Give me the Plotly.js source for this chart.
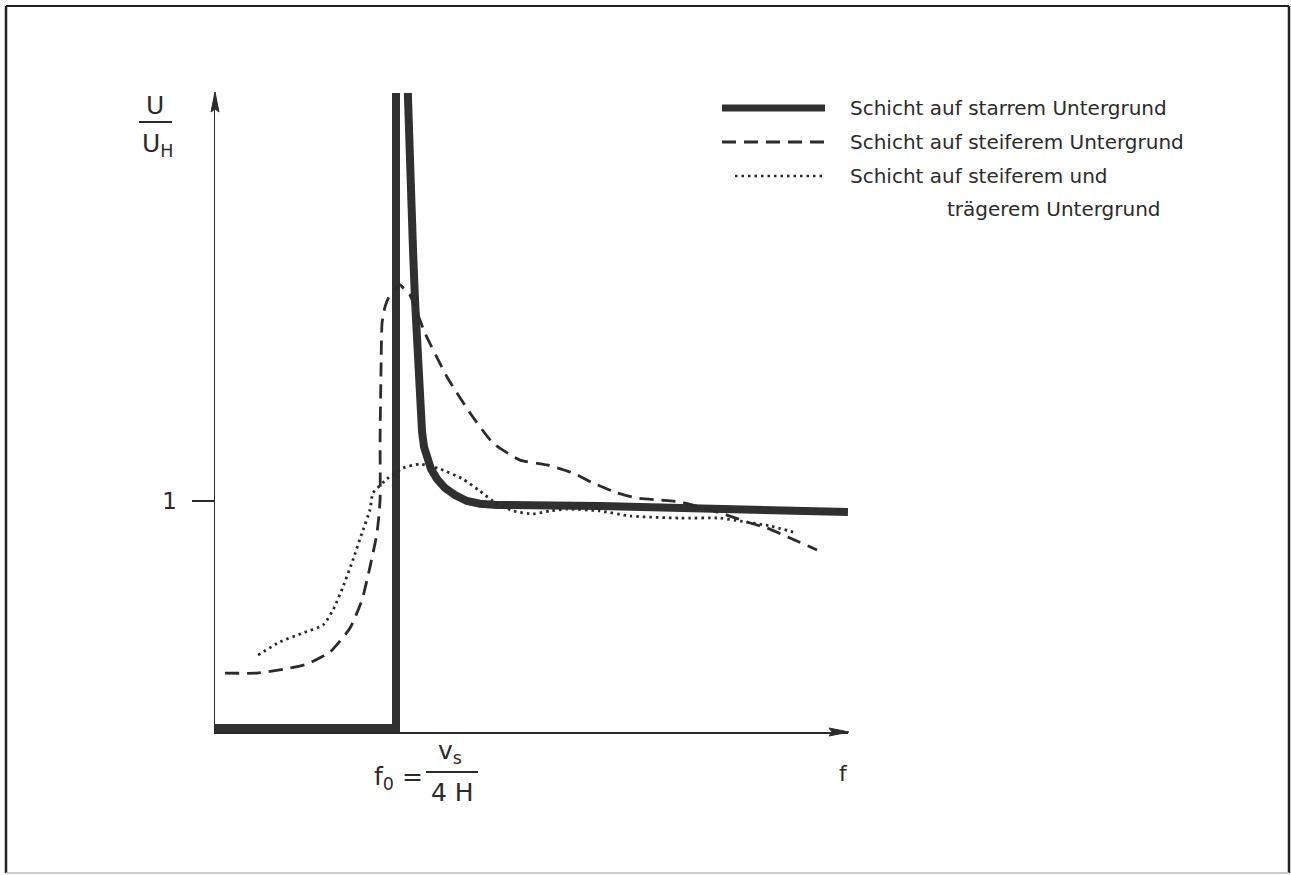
<!DOCTYPE html>
<html>
<head>
<meta charset="utf-8">
<script src="https://cdn.plot.ly/plotly-3.0.1.min.js"></script>
<style>
html,body{margin:0;padding:0;background:#fff;}
#chart{width:1291px;height:875px;}
</style>
</head>
<body>
<div id="chart"></div>
<script>
// ---- data (x = f/f0, y = U/U_H) ----
const seriesNames = ["Schicht auf starrem Untergrund", "Schicht auf steiferem Untergrund", "Schicht auf steiferem und", "trägerem Untergrund"];

const rigidX = [0, 1.0, 1.0, 1.061, 1.066, 1.072, 1.083, 1.094, 1.105, 1.116, 1.127, 1.138, 1.144, 1.155, 1.171, 1.193, 1.227, 1.271, 1.326, 1.392, 1.464, 1.558, 2.127, 2.680, 3.497];
const rigidY = [0.017, 0.017, 3.3, 3.3, 2.749, 2.519, 2.303, 2.087, 1.870, 1.654, 1.437, 1.351, 1.299, 1.234, 1.182, 1.139, 1.095, 1.056, 1.026, 1.000, 0.988, 0.983, 0.978, 0.970, 0.952];

const stiffX = [0.055, 0.232, 0.414, 0.508, 0.635, 0.746, 0.812, 0.856, 0.895, 0.912, 0.912, 0.917, 0.923, 0.939, 0.961, 1.022, 1.050, 1.077, 1.160, 1.282, 1.409, 1.536, 1.685, 1.834, 1.978, 2.088, 2.221, 2.331, 2.459, 2.569, 2.663, 2.829, 2.939, 3.050, 3.177, 3.326];
const stiffY = [0.255, 0.255, 0.277, 0.294, 0.346, 0.450, 0.571, 0.714, 0.861, 1.004, 1.264, 1.554, 1.771, 1.840, 1.883, 1.935, 1.913, 1.892, 1.727, 1.537, 1.381, 1.251, 1.177, 1.156, 1.121, 1.078, 1.035, 1.013, 1.004, 0.996, 0.978, 0.939, 0.909, 0.883, 0.840, 0.788];

const inertX = [0.238, 0.359, 0.486, 0.597, 0.652, 0.707, 0.762, 0.812, 0.856, 0.873, 0.950, 1.039, 1.133, 1.243, 1.370, 1.464, 1.536, 1.646, 1.757, 1.851, 1.945, 2.127, 2.293, 2.569, 2.790, 2.901, 3.066, 3.215];
const inertY = [0.333, 0.390, 0.429, 0.463, 0.528, 0.628, 0.745, 0.861, 0.961, 1.035, 1.095, 1.143, 1.160, 1.139, 1.095, 1.043, 1.000, 0.957, 0.944, 0.957, 0.965, 0.957, 0.935, 0.926, 0.926, 0.913, 0.892, 0.861];

const yTickVals = [1];
const yTickText = ["1"];

// ---- layout helpers (pixel -> paper) ----
const L = 215, R = 848, T = 93, B = 732;
const PX = p => (p - L) / (R - L);
const PY = p => (B - p) / (B - T);

const ink = "#2b2b2b";
const font = "DejaVu Sans, sans-serif";

const traces = [
  {x: rigidX, y: rigidY, mode: "lines", name: seriesNames[0], line: {color: "#303030", width: 8, shape: "linear"}, showlegend: false, hoverinfo: "skip"},
  {x: stiffX, y: stiffY, mode: "lines", name: seriesNames[1], line: {color: ink, width: 2.8, dash: "14px,8px", shape: "spline", smoothing: 0.5}, showlegend: false, hoverinfo: "skip"},
  {x: inertX, y: inertY, mode: "lines", name: seriesNames[2] + " " + seriesNames[3], line: {color: ink, width: 2.8, dash: "2.5px,4px", shape: "spline", smoothing: 0.5}, showlegend: false, hoverinfo: "skip"}
];

// arrowhead path in paper coords from tip pixel, direction
function arrowPath(tx, ty, dir) {
  const len = 20, hw = 4;
  let p;
  if (dir === "right") {
    p = [[tx, ty], [tx - len, ty - hw], [tx - len + 3, ty], [tx - len, ty + hw]];
  } else {
    p = [[tx, ty], [tx - hw, ty + len], [tx, ty + len - 3], [tx + hw, ty + len]];
  }
  return "M" + p.map(q => PX(q[0]) + "," + PY(q[1])).join(" L") + " Z";
}

const shapes = [
  // page frame
  {type: "line", xref: "paper", yref: "paper", x0: PX(6), y0: PY(6), x1: PX(1289), y1: PY(6), line: {color: "#222", width: 2}},
  {type: "line", xref: "paper", yref: "paper", x0: PX(6), y0: PY(6), x1: PX(6), y1: PY(873), line: {color: "#222", width: 2.5}},
  {type: "line", xref: "paper", yref: "paper", x0: PX(1289), y0: PY(6), x1: PX(1289), y1: PY(873), line: {color: "#222", width: 2.5}},
  {type: "line", xref: "paper", yref: "paper", x0: PX(6), y0: PY(873), x1: PX(1289), y1: PY(873), line: {color: "#bbb", width: 1.5}},
  // axis arrowheads
  {type: "path", xref: "paper", yref: "paper", path: arrowPath(849, 732, "right"), fillcolor: ink, line: {color: ink, width: 1}},
  {type: "path", xref: "paper", yref: "paper", path: arrowPath(215, 92, "up"), fillcolor: ink, line: {color: ink, width: 1}},
  // legend samples
  {type: "line", xref: "paper", yref: "paper", x0: PX(722), y0: PY(108), x1: PX(825), y1: PY(108), line: {color: "#303030", width: 7}},
  {type: "line", xref: "paper", yref: "paper", x0: PX(722), y0: PY(142), x1: PX(825), y1: PY(142), line: {color: ink, width: 2.8, dash: "14px,8px"}},
  {type: "line", xref: "paper", yref: "paper", x0: PX(735), y0: PY(176), x1: PX(825), y1: PY(176), line: {color: ink, width: 2.5, dash: "2.5px,4px"}},
  // U / U_H fraction bar
  {type: "line", xref: "paper", yref: "paper", x0: PX(139), y0: PY(122), x1: PX(172), y1: PY(122), line: {color: ink, width: 1.8}},
  // v_s / 4H fraction bar
  {type: "line", xref: "paper", yref: "paper", x0: PX(426), y0: PY(772), x1: PX(478), y1: PY(772), line: {color: ink, width: 1.8}}
];

const txt = (px, py, text, size, anchor) => ({
  xref: "paper", yref: "paper", x: PX(px), y: PY(py), text: text, showarrow: false,
  xanchor: anchor || "left", yanchor: "middle", font: {family: font, size: size, color: ink}
});

const annotations = [
  txt(848, 108, seriesNames[0], 20),
  txt(848, 142, seriesNames[1], 20),
  txt(848, 176, seriesNames[2], 20),
  txt(945, 209, seriesNames[3], 20),
  txt(155, 105, "U", 25, "center"),
  txt(157, 145, "U<sub>H</sub>", 25, "center"),
  txt(843, 773, "f", 22, "center"),
  txt(372, 778, "f<sub>0</sub> =", 25, "left"),
  txt(450, 752, "v<sub>s</sub>", 25, "center"),
  txt(452, 792, "4 H", 25, "center")
];

const layout = {
  width: 1291, height: 875,
  margin: {l: L, r: 1291 - R, t: T, b: 875 - B, pad: 0},
  paper_bgcolor: "#fff", plot_bgcolor: "#fff",
  showlegend: false,
  xaxis: {range: [0, (R - L) / 181], showgrid: false, zeroline: false, showline: true, linecolor: ink, linewidth: 1.5,
          showticklabels: false, ticks: "", fixedrange: true},
  yaxis: {range: [0, (B - T) / 231], showgrid: false, zeroline: false, showline: true, linecolor: ink, linewidth: 1.5,
          tickvals: yTickVals, ticktext: yTickText, ticks: "outside", ticklen: 22, tickwidth: 1.5, tickcolor: ink,
          ticklabelstandoff: 10,
          tickfont: {family: font, size: 23, color: ink}, fixedrange: true},
  shapes: shapes,
  annotations: annotations
};

Plotly.newPlot("chart", traces, layout, {displayModeBar: false, staticPlot: true});
</script>
</body>
</html>
